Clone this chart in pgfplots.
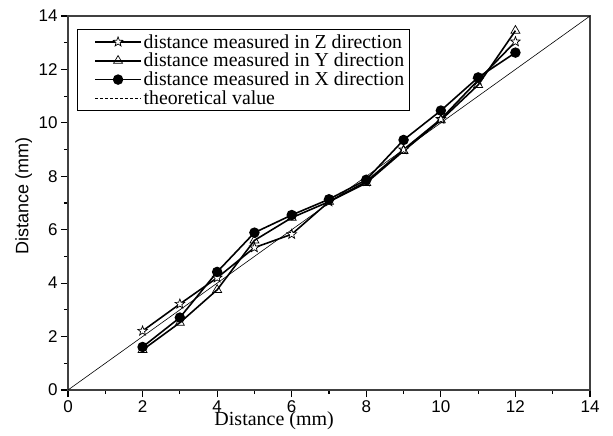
\documentclass[border=0pt]{standalone}
\usepackage{pgfplots}
\pgfplotsset{compat=1.18}
\usepackage{fontspec}
\setmainfont{Liberation Serif}
\newfontfamily\arialf{Liberation Sans}

% open five-pointed star
\pgfdeclareplotmark{ostar}{%
  \pgfpathmoveto{\pgfpointpolar{90}{\pgfplotmarksize}}%
  \pgfpathlineto{\pgfpointpolar{126}{0.42\pgfplotmarksize}}%
  \pgfpathlineto{\pgfpointpolar{162}{\pgfplotmarksize}}%
  \pgfpathlineto{\pgfpointpolar{198}{0.42\pgfplotmarksize}}%
  \pgfpathlineto{\pgfpointpolar{234}{\pgfplotmarksize}}%
  \pgfpathlineto{\pgfpointpolar{270}{0.42\pgfplotmarksize}}%
  \pgfpathlineto{\pgfpointpolar{306}{\pgfplotmarksize}}%
  \pgfpathlineto{\pgfpointpolar{342}{0.42\pgfplotmarksize}}%
  \pgfpathlineto{\pgfpointpolar{18}{\pgfplotmarksize}}%
  \pgfpathlineto{\pgfpointpolar{54}{0.42\pgfplotmarksize}}%
  \pgfpathclose
  \pgfusepathqfillstroke}

\pgfplotsset{
  legline/.style={legend image code/.code={%
    \path (-0.5cm,0cm);
    \draw[mark repeat=2, mark phase=2] plot coordinates {(0cm,0cm) (0.8cm,0cm) (1.6cm,0cm)};}},
}

\begin{document}
\begin{tikzpicture}
\begin{axis}[
  name=ax,
  scale only axis,
  width=522pt, height=374pt,
  xmin=0, xmax=14, ymin=0, ymax=14,
  xtick={0,2,...,14}, ytick={0,2,...,14},
  minor x tick num=1, minor y tick num=1,
  tick align=outside,
  xtick pos=bottom, ytick pos=left,
  major tick length=7pt, minor tick length=4pt,
  axis line style={line width=1.3pt, black!75},
  tick style={line width=1.1pt, black},
  /pgf/number format/assume math mode=true,
  tick label style={font=\arialf\fontsize{17}{17}\selectfont, black},
  xlabel={Distance (mm)},
  xlabel style={font=\fontsize{20}{20}\selectfont, at={(axis description cs:0.395,0)}, anchor=center, yshift=-31pt},
  ylabel={Distance (mm)},
  ylabel style={font=\arialf\fontsize{18}{18}\selectfont, at={(axis description cs:-0.085,0.52)}, anchor=center},
  legend style={at={(0.017,0.965)}, anchor=north west, draw=black, line width=0.8pt,
    font=\fontsize{19.8}{23}\selectfont, inner xsep=3pt, inner ysep=3pt,
    nodes={inner ysep=1.8pt}, cells={anchor=west}},
  legend cell align=left,
]
\addplot[black, line width=1.6pt, mark=ostar, mark size=5pt, mark options={fill=white, line width=0.7pt}, legline]
  coordinates {(2,2.21) (3,3.22) (4,4.2) (5,5.33) (6,5.83) (7,7.05) (8,7.8) (9,9.0) (10,10.14) (11,11.6) (12,13.04)};
\addlegendentry{distance measured in Z direction}
\addplot[black, line width=1.6pt, mark=triangle, mark size=5.2pt, mark options={fill=white, line width=0.7pt}, legline]
  coordinates {(2,1.5) (3,2.52) (4,3.75) (5,5.6) (6,6.45) (7,7.05) (8,7.75) (9,8.95) (10,10.1) (11,11.42) (12,13.45)};
\addlegendentry{distance measured in Y direction}
\addplot[black, line width=1.6pt, mark=*, mark size=4.4pt, mark options={fill=black}, legline]
  coordinates {(2,1.61) (3,2.71) (4,4.42) (5,5.89) (6,6.55) (7,7.14) (8,7.87) (9,9.36) (10,10.46) (11,11.7) (12,12.63)};
\addlegendentry{distance measured in X direction}
\addplot[black, line width=0.6pt,
  legend image code/.code={\path (-0.5cm,0cm); \draw[line width=0.8pt, dash pattern=on 3pt off 2pt] (0cm,0cm) -- (1.6cm,0cm);}]
  coordinates {(0,0) (14,14)};
\addlegendentry{theoretical value}
\end{axis}
\path (ax.south west) ++(-68pt,-46pt);
\path (ax.south west) ++(545pt,390pt);
\end{tikzpicture}
\end{document}
